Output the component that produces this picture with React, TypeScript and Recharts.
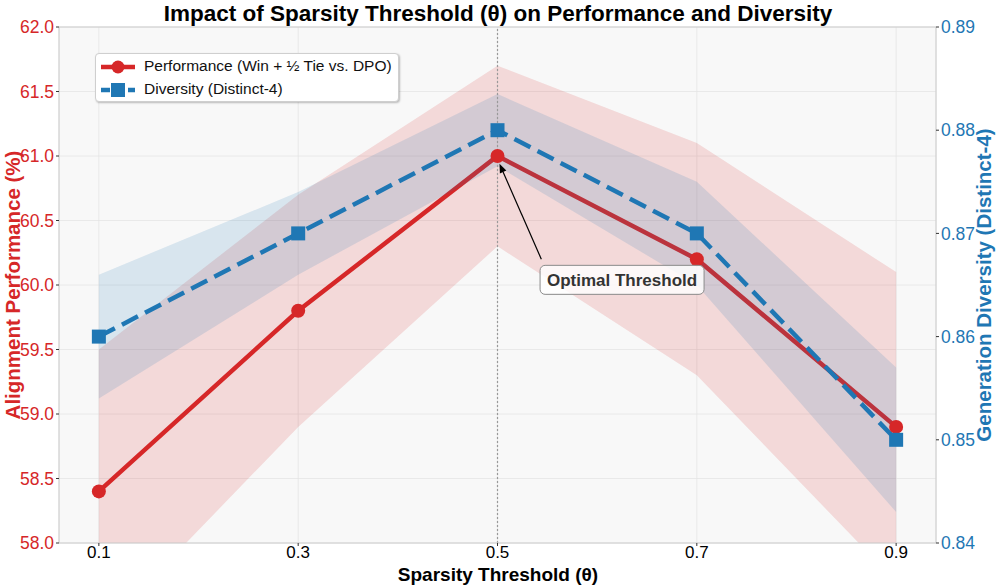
import React from "react";
import {
  ComposedChart,
  Line,
  Area,
  XAxis,
  YAxis,
  CartesianGrid,
  ReferenceLine,
  ReferenceDot,
} from "recharts";

// sparsity threshold values on the x axis
const thresholds = [0.1, 0.3, 0.5, 0.7, 0.9];
// alignment performance (%) and its spread
const performance = [58.4, 59.8, 61.0, 60.2, 58.9];
const performanceSpread = [1.1, 0.9, 0.7, 0.9, 1.2];
// distinct-4 diversity and its spread
const diversity = [0.86, 0.87, 0.88, 0.87, 0.85];
const diversitySpread = [0.006, 0.004, 0.0035, 0.005, 0.007];

const perfTicks = [58, 58.5, 59, 59.5, 60, 60.5, 61, 61.5, 62];
const divTicks = [0.84, 0.85, 0.86, 0.87, 0.88, 0.89];

const RED = "#d62728";
const BLUE = "#1f77b4";
const FONT = "'Liberation Sans', Arial, Helvetica, sans-serif";

const data = thresholds.map((t, i) => ({
  theta: t,
  perf: performance[i],
  perfBand: [performance[i] - performanceSpread[i], performance[i] + performanceSpread[i]],
  div: diversity[i],
  divBand: [diversity[i] - diversitySpread[i], diversity[i] + diversitySpread[i]],
}));

// eslint-disable-next-line @typescript-eslint/no-explicit-any
const SquareDot = (props: any) => {
  const { cx, cy, index } = props;
  if (cx == null || cy == null) return null;
  return <rect key={`sq-${index}`} x={cx - 7} y={cy - 7} width={14} height={14} fill={BLUE} />;
};

// eslint-disable-next-line @typescript-eslint/no-explicit-any
const ArrowShape = (props: any) => {
  const { x1, y1, x2, y2 } = props;
  const ang = Math.atan2(y2 - y1, x2 - x1);
  const len = 9;
  const w = 3.5;
  const bx = x2 - len * Math.cos(ang);
  const by = y2 - len * Math.sin(ang);
  const px = -Math.sin(ang) * w;
  const py = Math.cos(ang) * w;
  return (
    <g>
      <line x1={x1} y1={y1} x2={bx} y2={by} stroke="#000" strokeWidth={1.2} />
      <polygon points={`${x2},${y2} ${bx + px},${by + py} ${bx - px},${by - py}`} fill="#000" />
    </g>
  );
};

// eslint-disable-next-line @typescript-eslint/no-explicit-any
const AnnotationBox = (props: any) => {
  const { cx, cy } = props;
  return (
    <g>
      <rect
        x={cx - 82}
        y={cy - 14.5}
        width={164}
        height={29}
        rx={5}
        fill="rgba(255,255,255,0.82)"
        stroke="#8a8a8a"
        strokeWidth={1}
      />
      <text
        x={cx}
        y={cy + 6}
        textAnchor="middle"
        fontFamily={FONT}
        fontWeight="bold"
        fontSize={17}
        fill="#333"
      >
        Optimal Threshold
      </text>
    </g>
  );
};

export default function App() {
  return (
    <div
      style={{
        position: "absolute",
        left: 0,
        top: 0,
        width: 996,
        height: 585,
        background: "#fff",
        fontFamily: FONT,
      }}
    >
      <ComposedChart
        width={996}
        height={585}
        data={data}
        margin={{ top: 27, right: 0, bottom: 0, left: 0 }}
      >
        <CartesianGrid yAxisId="perf" stroke="#e4e4e4" strokeWidth={0.8} fill="#f8f8f8" />
        <XAxis
          dataKey="theta"
          type="number"
          domain={[0.06, 0.94]}
          ticks={thresholds}
          tickFormatter={(v: number) => v.toFixed(1)}
          tick={{ fill: "#000", fontSize: 17, fontFamily: FONT }}
          axisLine={{ stroke: "#cccccc" }}
          tickLine={{ stroke: "#333" }}
          tickSize={3}
          tickMargin={0}
          height={42}
          allowDataOverflow
        />
        <YAxis
          yAxisId="perf"
          domain={[58, 62]}
          ticks={perfTicks}
          tickFormatter={(v: number) => v.toFixed(1)}
          tick={{ fill: RED, fontSize: 17.5, fontFamily: FONT }}
          axisLine={{ stroke: "#cccccc" }}
          tickLine={{ stroke: "#333" }}
          tickSize={3}
          tickMargin={2}
          width={59}
          allowDataOverflow
        />
        <YAxis
          yAxisId="div"
          orientation="right"
          domain={[0.84, 0.89]}
          ticks={divTicks}
          tickFormatter={(v: number) => v.toFixed(2)}
          tick={{ fill: BLUE, fontSize: 17.5, fontFamily: FONT }}
          axisLine={{ stroke: "#cccccc" }}
          tickLine={{ stroke: "#333" }}
          tickSize={3}
          tickMargin={2}
          width={60}
          allowDataOverflow
        />
        <ReferenceLine yAxisId="perf" y={62} stroke="#cccccc" />
        <ReferenceLine yAxisId="perf" x={0.5} stroke="#9a9a9a" strokeWidth={1.2} strokeDasharray="2 2" />

        {/* red series first, the blue band is laid over it like in the twin-axis plot */}
        <Area
          yAxisId="perf"
          dataKey="perfBand"
          type="linear"
          stroke="none"
          fill={RED}
          fillOpacity={0.15}
          isAnimationActive={false}
          zIndex={100}
        />
        <Line
          yAxisId="perf"
          dataKey="perf"
          type="linear"
          stroke={RED}
          strokeWidth={4.5}
          dot={{ r: 7, fill: RED, stroke: "none" }}
          activeDot={false}
          isAnimationActive={false}
          zIndex={200}
        />
        <Area
          yAxisId="div"
          dataKey="divBand"
          type="linear"
          stroke="none"
          fill={BLUE}
          fillOpacity={0.15}
          isAnimationActive={false}
          zIndex={300}
        />
        <Line
          yAxisId="div"
          dataKey="div"
          type="linear"
          stroke={BLUE}
          strokeWidth={4.5}
          strokeDasharray="18 8"
          dot={SquareDot}
          activeDot={false}
          isAnimationActive={false}
          zIndex={400}
        />

        <ReferenceLine
          yAxisId="perf"
          segment={[
            { x: 0.544, y: 60.2 },
            { x: 0.502, y: 60.94 },
          ]}
          shape={ArrowShape}
        />
        <ReferenceDot yAxisId="perf" x={0.625} y={60.04} shape={AnnotationBox} />
      </ComposedChart>

      <svg
        width={996}
        height={585}
        style={{ position: "absolute", left: 0, top: 0, pointerEvents: "none" }}
      >
        <text x={498} y={21} textAnchor="middle" fontFamily={FONT} fontWeight="bold" fontSize={22.5} fill="#000">
          Impact of Sparsity Threshold (θ) on Performance and Diversity
        </text>
        <text x={498} y={581} textAnchor="middle" fontFamily={FONT} fontWeight="bold" fontSize={19} fill="#000">
          Sparsity Threshold (θ)
        </text>
        <text
          transform="translate(20,285) rotate(-90)"
          textAnchor="middle"
          fontFamily={FONT}
          fontWeight="bold"
          fontSize={20.5}
          fill={RED}
        >
          Alignment Performance (%)
        </text>
        <text
          transform="translate(991,285) rotate(-90)"
          textAnchor="middle"
          fontFamily={FONT}
          fontWeight="bold"
          fontSize={20.5}
          fill={BLUE}
        >
          Generation Diversity (Distinct-4)
        </text>
      </svg>

      <div
        style={{
          position: "absolute",
          left: 95,
          top: 53,
          width: 304,
          height: 49,
          background: "#fff",
          border: "1px solid #cfcfcf",
          borderRadius: 4,
          boxShadow: "1px 1px 2px rgba(0,0,0,0.25)",
          boxSizing: "border-box",
          fontSize: 15.5,
          color: "#111",
        }}
      >
        <svg width={40} height={49} style={{ position: "absolute", left: 3, top: 0 }}>
          <line x1={2} y1={13} x2={36} y2={13} stroke={RED} strokeWidth={4.5} />
          <circle cx={19} cy={13} r={6.5} fill={RED} />
          <line x1={2} y1={36} x2={11} y2={36} stroke={BLUE} strokeWidth={4.5} />
          <line x1={15} y1={36} x2={36} y2={36} stroke={BLUE} strokeWidth={4.5} strokeDasharray="10 4" />
          <rect x={12} y={29} width={14} height={14} fill={BLUE} />
        </svg>
        <div style={{ position: "absolute", left: 48, top: 3, whiteSpace: "nowrap" }}>
          Performance (Win + ½ Tie vs. DPO)
        </div>
        <div style={{ position: "absolute", left: 48, top: 26, whiteSpace: "nowrap" }}>
          Diversity (Distinct-4)
        </div>
      </div>
    </div>
  );
}
